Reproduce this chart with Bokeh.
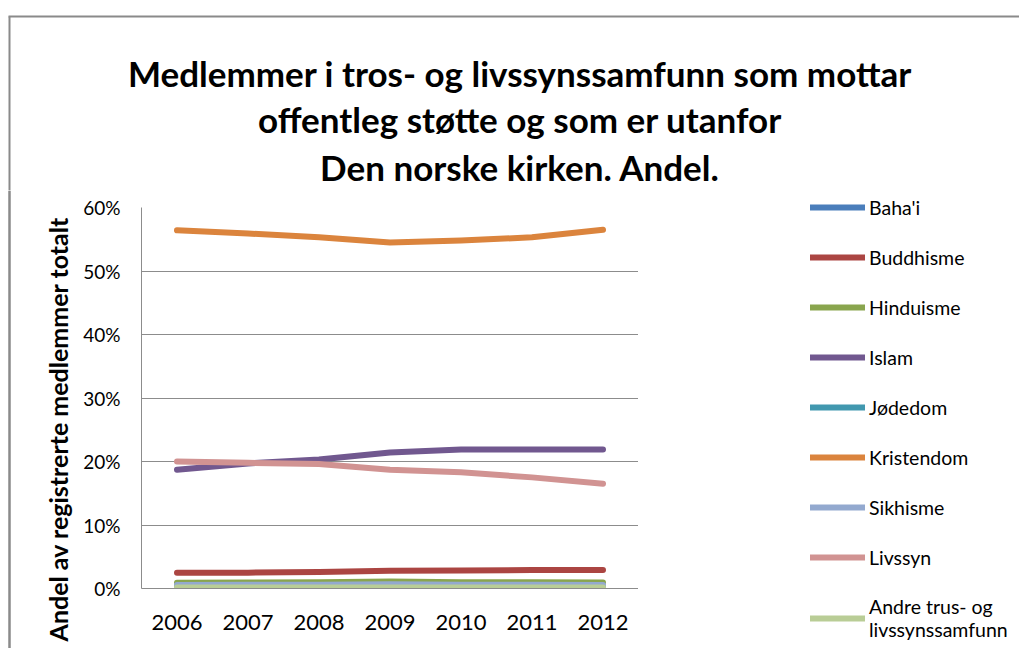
import math
from bokeh.plotting import figure
from bokeh.models import Label, Legend, LegendItem, FixedTicker, PrintfTickFormatter, Range1d, Span
from bokeh.layouts import column, row
from bokeh.embed import file_html
from bokeh.resources import INLINE

years = ["2006", "2007", "2008", "2009", "2010", "2011", "2012"]

bahai = [0.3, 0.3, 0.3, 0.3, 0.3, 0.3, 0.25]
buddhisme = [2.5, 2.5, 2.6, 2.8, 2.85, 2.9, 2.9]
hinduisme = [0.9, 0.95, 1.0, 1.1, 1.0, 1.0, 0.95]
islam = [18.7, 19.7, 20.3, 21.4, 21.9, 21.9, 21.9]
jodedom = [0.2, 0.2, 0.15, 0.15, 0.1, 0.05, 0.0]
kristendom = [56.4, 55.9, 55.3, 54.5, 54.8, 55.3, 56.5]
sikhisme = [0.55, 0.6, 0.6, 0.65, 0.6, 0.6, 0.55]
livssyn = [20.0, 19.8, 19.6, 18.7, 18.3, 17.5, 16.5]
andre = [0.15, 0.15, 0.15, 0.15, 0.15, 0.15, 0.15]

series_names = ["Baha'i", "Buddhisme", "Hinduisme", "Islam", "Jødedom",
                "Kristendom", "Sikhisme", "Livssyn", "Andre trus- og\nlivssynssamfunn"]
series_values = [bahai, buddhisme, hinduisme, islam, jodedom, kristendom, sikhisme, livssyn, andre]
series_colors = ["#4A7EBB", "#AB4542", "#89A54E", "#71588F", "#4198AF",
                 "#DB843D", "#93A9CF", "#D19392", "#B9CD96"]

y_ticks = [0, 10, 20, 30, 40, 50, 60]

title_lines = ["Medlemmer i tros- og livssynssamfunn som mottar",
               "offentleg støtte og som er utanfor",
               "Den norske kirken. Andel."]
y_label = "Andel av registrerte medlemmer totalt"

FONT = "Lato"
BORDER = "#8A8A8A"


def blank(width, height, xr, yr):
    f = figure(width=width, height=height, x_range=Range1d(*xr), y_range=Range1d(*yr),
               x_axis_location=None, y_axis_location=None, output_backend="svg",
               toolbar_location=None, min_border=0)
    f.grid.visible = False
    f.outline_line_color = None
    f.frame_align = False
    return f


# ---- title strip ----
TOP_H = 190
p0 = blank(1019, TOP_H, (0, 1019), (0, TOP_H))
p0.segment(x0=[8], y0=[TOP_H - 16], x1=[1019], y1=[TOP_H - 16], line_color=BORDER, line_width=2)
p0.segment(x0=[9], y0=[0], x1=[9], y1=[TOP_H - 16], line_color=BORDER, line_width=2)
for line, base in zip(title_lines, [72, 118.5, 166]):
    p0.add_layout(Label(x=519.5, y=TOP_H - base, text=line, text_align="center",
                        text_baseline="alphabetic", text_font=FONT, text_font_style="bold",
                        text_font_size="35px", text_color="black"))

H = 648 - TOP_H

# ---- left strip: border and y-axis title ----
LEFT_W = 80
pl = blank(LEFT_W, H, (0, LEFT_W), (0, H))
pl.add_layout(Span(location=9, dimension="height", line_color=BORDER, line_width=2))
pl.segment(x0=[9], y0=[0], x1=[9], y1=[H], line_color=BORDER, line_width=2)
pl.add_layout(Label(x=57, y=648 - 428.5, text=y_label, angle=math.pi / 2,
                    text_align="center", text_baseline="middle", text_font=FONT,
                    text_font_style="bold", text_font_size="25px", text_color="black"))

# ---- main plot ----
p = figure(x_range=years, y_range=Range1d(0, 60), width=638 - LEFT_W, height=H,
           output_backend="svg", toolbar_location=None,
           min_border_left=138 - LEFT_W, min_border_right=0, min_border_top=207 - TOP_H,
           min_border_bottom=H - (588 - TOP_H))
p.frame_align = False
p.outline_line_color = None
p.xgrid.grid_line_color = None
p.ygrid.grid_line_color = "#8C8C8C"
p.ygrid.grid_line_width = 1
p.yaxis.ticker = FixedTicker(ticks=y_ticks)
p.yaxis.formatter = PrintfTickFormatter(format="%d%%")
for ax in (p.xaxis[0], p.yaxis[0]):
    ax.axis_line_color = "#8C8C8C"
    ax.major_tick_line_color = None
    ax.minor_tick_line_color = None
    ax.major_tick_out = 0
    ax.major_tick_in = 0
    ax.major_label_text_font = FONT
    ax.major_label_text_color = "black"
p.yaxis.major_label_text_font_size = "19px"
p.yaxis.major_label_standoff = 21
p.xaxis.major_label_text_font_size = "22px"
p.xaxis.major_label_standoff = 26

for name, vals, col in zip(series_names, series_values, series_colors):
    p.line(years, vals, line_color=col, line_width=6, line_cap="round", line_join="round")

# ---- legend panel ----
p2 = blank(381, H, (0, 1), (0, 1))
items = []
for name, col in zip(series_names, series_colors):
    # off-screen stand-in renderer, only used for the legend swatch
    r = p2.line(x=[5, 6], y=[5, 6], line_color=col, line_width=6, line_cap="round")
    items.append(LegendItem(label=name, renderers=[r]))
legend = Legend(items=items, location=(172, 7), glyph_width=55, glyph_height=24,
                label_height=24, spacing=26, padding=0, margin=0, label_standoff=4,
                background_fill_alpha=0, border_line_alpha=0,
                label_text_font=FONT, label_text_font_size="19.5px", label_text_color="black")
p2.add_layout(legend, "center")

layout = column(p0, row(pl, p, p2))
open("out.html", "w").write(file_html(layout, INLINE))
